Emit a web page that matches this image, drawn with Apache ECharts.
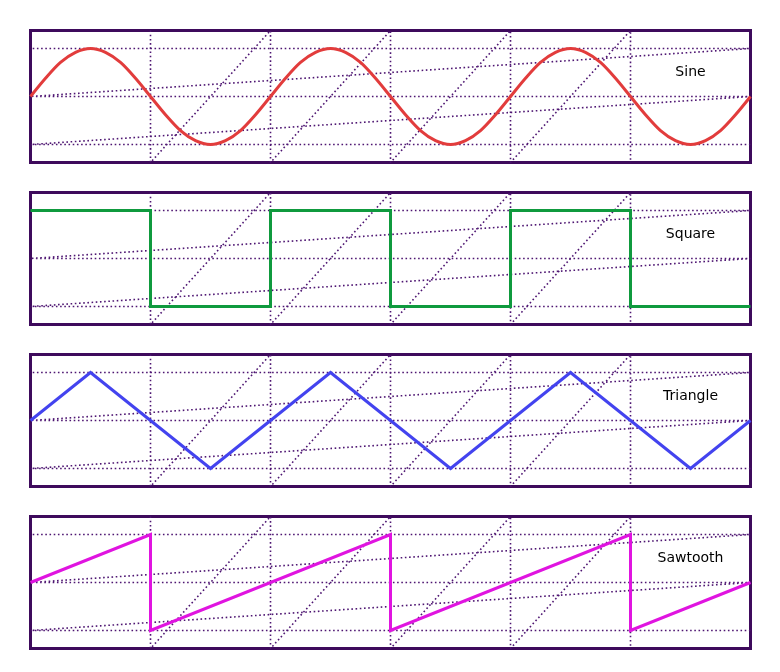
<!DOCTYPE html>
<html>
<head>
<meta charset="utf-8">
<script src="https://cdn.jsdelivr.net/npm/echarts@6/dist/echarts.min.js"></script>
<style>
html,body{margin:0;padding:0;background:#fff;}
#chart{width:780px;height:672px;}
</style>
</head>
<body>
<div id="chart"></div>
<script>
// ---- data ----
const panelNames = ['Sine', 'Square', 'Triangle', 'Sawtooth'];
const panelColors = ['#e23c3c', '#0f9a3e', '#4343ef', '#e014e0'];

const sineX = [0,0.25,0.5,0.75,1,1.25,1.5,1.75,2,2.25,2.5,2.75,3,3.25,3.5,3.75,
  4,4.25,4.5,4.75,5,5.25,5.5,5.75,6,6.25,6.5,6.75,7,7.25,7.5,7.75,
  8,8.25,8.5,8.75,9,9.25,9.5,9.75,10,10.25,10.5,10.75,11,11.25,11.5,11.75,12];
const sineY = [0,0.38,0.71,0.92,1,0.92,0.71,0.38,0,-0.38,-0.71,-0.92,-1,-0.92,-0.71,-0.38,
  0,0.38,0.71,0.92,1,0.92,0.71,0.38,0,-0.38,-0.71,-0.92,-1,-0.92,-0.71,-0.38,
  0,0.38,0.71,0.92,1,0.92,0.71,0.38,0,-0.38,-0.71,-0.92,-1,-0.92,-0.71,-0.38,0];

const squareX = [0,2,2,4,4,6,6,8,8,10,10,12];
const squareY = [1,1,-1,-1,1,1,-1,-1,1,1,-1,-1];

const triangleX = [0,1,3,5,7,9,11,12];
const triangleY = [0,1,-1,1,-1,1,-1,0];

const sawX = [0,2,2,6,6,10,10,12];
const sawY = [0,1,-1,1,-1,1,-1,0];

const gridLevels = [-1, 0, 1];
const gridXs = [2, 4, 6, 8, 10];
const xMin = 0, xMax = 12;
const yMin = -1.375, yMax = 1.375;
const labelPos = [11, 0.5];

// ---- build ----
const waves = [[sineX, sineY], [squareX, squareY], [triangleX, triangleY], [sawX, sawY]];
const zip = (xs, ys) => xs.map((x, i) => [x, ys[i]]);

// horizontal grid drawn as one polyline (right to left per level)
const hPath = [];
gridLevels.forEach(l => { hPath.push([xMax, l]); hPath.push([xMin, l]); });
// vertical grid drawn as one polyline (top to bottom per x)
const vPath = [];
gridXs.forEach(x => { vPath.push([x, yMax]); vPath.push([x, yMin]); });

const grids = [], xAxes = [], yAxes = [], series = [];
const tops = [30.5, 192.5, 354.5, 516.5];
const gridStyle = {color: '#4e1672', width: 1.6, type: [1.6, 2.6]};

waves.forEach((w, i) => {
  grids.push({left: 30.5, top: tops[i], width: 720, height: 132, show: true,
    borderColor: '#3e0a5c', borderWidth: 3, backgroundColor: '#fff'});
  xAxes.push({type: 'value', gridIndex: i, min: xMin, max: xMax, show: false});
  yAxes.push({type: 'value', gridIndex: i, min: yMin, max: yMax, show: false});
  series.push({type: 'line', xAxisIndex: i, yAxisIndex: i, data: hPath, symbol: 'none',
    lineStyle: gridStyle, silent: true, z: 1});
  series.push({type: 'line', xAxisIndex: i, yAxisIndex: i, data: vPath, symbol: 'none',
    lineStyle: gridStyle, silent: true, z: 1});
  series.push({type: 'line', xAxisIndex: i, yAxisIndex: i, data: zip(w[0], w[1]), symbol: 'none',
    smooth: i === 0 ? 0.3 : false,
    lineStyle: {color: panelColors[i], width: 3, join: 'miter'}, z: 3,
    markPoint: {
      symbol: 'circle', symbolSize: 0, silent: true,
      itemStyle: {color: '#000'},
      label: {show: true, position: 'inside', formatter: panelNames[i],
        color: '#000', fontFamily: 'DejaVu Sans', fontSize: 14, textBorderWidth: 0},
      data: [{coord: labelPos}]
    }});
});

const chart = echarts.init(document.getElementById('chart'), null, {renderer: 'canvas'});
chart.setOption({animation: false, grid: grids, xAxis: xAxes, yAxis: yAxes, series: series});
</script>
</body>
</html>
